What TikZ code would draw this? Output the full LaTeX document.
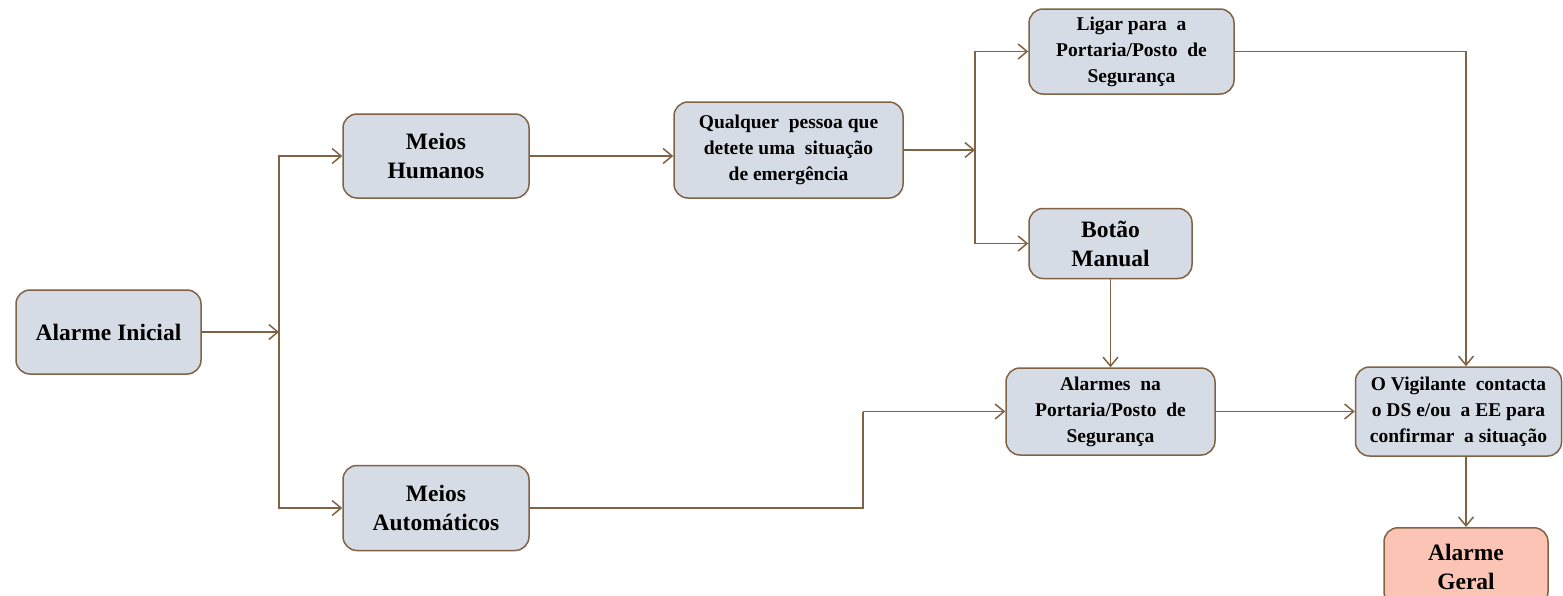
\documentclass[tikz,border=0pt]{standalone}
\usepackage{fontspec}
\setmainfont{Liberation Serif}
\usetikzlibrary{arrows.meta,calc}
\definecolor{boxfill}{RGB}{214,220,229}
\definecolor{boxline}{RGB}{128,98,68}
\definecolor{redfill}{RGB}{251,196,180}
\begin{document}
\begin{tikzpicture}[x=1pt,y=-1pt,
  box/.style={draw=boxline,fill=boxfill,line width=1.5pt,rounded corners=14pt,
    align=center,inner sep=0pt,font=\bfseries},
  big/.style={font=\bfseries\fontsize{23.5}{29}\selectfont},
  small/.style={font=\bfseries\fontsize{19.5}{26}\selectfont},
  arr/.style={draw=boxline,line width=1.6pt,-{Straight Barb[length=9pt,width=15pt,line width=1.5pt]}},
  ln/.style={draw=boxline,line width=1.6pt}]
\useasboundingbox (0,0) rectangle (1563,595);
\node[box,big,minimum width=185pt,minimum height=84pt] (ini) at (108.5,332) {Alarme Inicial};
\node[box,big,minimum width=186pt,minimum height=84pt] (hum) at (436,156) {Meios\\Humanos};
\node[box,big,minimum width=186pt,minimum height=85pt] (aut) at (436,508) {Meios\\Automáticos};
\node[box,small,minimum width=229pt,minimum height=96pt] (qual) at (788.5,150) {Qualquer \ pessoa que\\detete uma \ situação\\de emergência};
\node[box,small,minimum width=205pt,minimum height=85pt] (lig) at (1131.5,51.5) {Ligar para \ a\\Portaria/Posto \ de\\Segurança};
\node[box,big,minimum width=163pt,minimum height=70pt] (bot) at (1110.5,243.5) {Botão\\Manual};
\node[box,small,minimum width=209pt,minimum height=87pt] (alm) at (1110.5,411.5) {Alarmes \ na\\Portaria/Posto \ de\\Segurança};
\node[box,small,minimum width=206pt,minimum height=89pt] (vig) at (1458.5,411.5) {O Vigilante \ contacta\\o DS e/ou \ a EE para\\confirmar \ a situação};
\node[box,big,fill=redfill,minimum width=164pt,minimum height=78pt,anchor=north] (ger) at (1466,527) {Alarme\\Geral};
\coordinate (j1) at (279,332);
\coordinate (j2) at (975,150);
\coordinate (j3) at (863,411.5);
\draw[arr] (ini.east) -- (j1);
\draw[arr] (j1) |- (hum.west);
\draw[arr] (j1) |- (aut.west);
\draw[arr] (hum.east) -- (hum.east -| qual.west);
\draw[arr] (qual.east) -- (j2);
\draw[arr] (j2) |- (lig.west);
\draw[arr] (j2) |- (bot.west);
\draw[arr] (bot.south) -- (bot.south |- alm.north);
\draw[ln] (aut.east) -| (j3);
\draw[arr] (j3) -- (alm.west);
\draw[arr] (alm.east) -- (vig.west);
\draw[arr] (lig.east) -| (ger.north |- vig.north);
\draw[arr] (ger.north |- vig.south) -- (ger.north);
\end{tikzpicture}
\end{document}
